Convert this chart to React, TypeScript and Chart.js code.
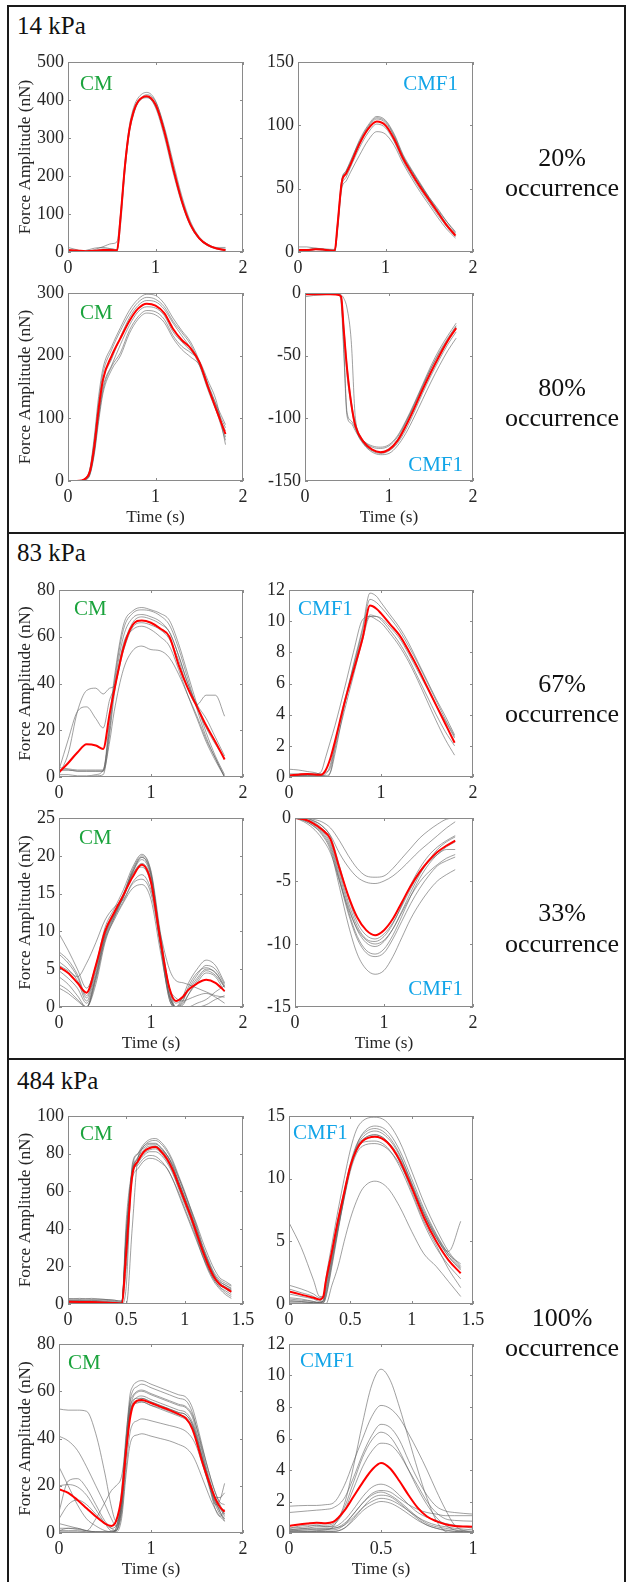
import React, { useEffect, useRef } from "react";
import { Chart, registerables } from "chart.js";
Chart.register(...registerables);

const FONT = '"Liberation Serif", "Times New Roman", Times, serif';

// ---------- 14 kPa ----------
const p1Time = [0, 0.1, 0.2, 0.3, 0.4, 0.5, 0.56, 0.6, 0.65, 0.7, 0.75, 0.8, 0.9, 1.0, 1.1, 1.2, 1.3, 1.4, 1.5, 1.6, 1.7, 1.8];
const p1Mean = [5, 4, 2, 3, 5, 5, 4, 90, 225, 320, 370, 396, 410, 388, 318, 222, 135, 72, 36, 18, 9, 5];
const p1Traces = [
  [12, 6, 1, 6, 14, 22, 27, 100, 235, 330, 380, 405, 420, 398, 325, 228, 140, 75, 38, 20, 12, 12],
  [3, 3, 4, 10, 12, 8, 6, 85, 215, 312, 362, 392, 406, 384, 314, 218, 132, 70, 34, 16, 8, 4],
  [2, 1, 1, 2, 3, 3, 3, 70, 210, 315, 366, 393, 414, 396, 330, 238, 148, 80, 40, 20, 10, 6],
  [6, 4, 2, 3, 8, 8, 6, 95, 230, 322, 372, 398, 408, 380, 305, 210, 128, 68, 34, 17, 9, 8],
];

const p2Time = [0, 0.1, 0.2, 0.3, 0.42, 0.45, 0.5, 0.55, 0.6, 0.7, 0.8, 0.9, 1.0, 1.1, 1.2, 1.3, 1.4, 1.5, 1.6, 1.7, 1.8];
const p2Mean = [1.5, 1.5, 2.2, 1.8, 1.0, 20, 55, 62, 69, 85, 97, 103, 100, 89, 74, 62, 51, 41, 31, 21, 13];
const p2Traces = [
  [1, 1.5, 3, 2, 1, 18, 56, 64, 71, 88, 100, 107, 104, 93, 77, 65, 54, 43, 33, 24, 16],
  [4, 4, 3, 2.5, 2, 22, 57, 64, 72, 87, 99, 106, 103, 92, 76, 64, 53, 42, 32, 22, 14],
  [1, 1, 2, 1.5, 1, 18, 52, 59, 67, 82, 94, 101, 98, 87, 72, 60, 49, 39, 29, 20, 12],
  [1, 1, 2, 1.5, 0.5, 15, 50, 56, 63, 76, 88, 95, 93, 84, 70, 58, 47, 37, 27, 18, 11],
  [2, 2, 2.5, 2, 1.5, 20, 55, 63, 70, 86, 98, 105, 102, 91, 75, 64, 53, 43, 34, 24, 15],
];

const p3Time = [0, 0.1, 0.2, 0.25, 0.3, 0.35, 0.4, 0.5, 0.6, 0.7, 0.8, 0.9, 1.0, 1.1, 1.2, 1.3, 1.4, 1.5, 1.6, 1.7, 1.8];
const p3Mean = [0, 0, 4, 15, 55, 115, 162, 200, 228, 255, 275, 283, 280, 268, 243, 225, 212, 190, 150, 112, 75];
const p3Traces = [
  [0, 0, 5, 20, 70, 135, 180, 215, 245, 272, 290, 298, 296, 283, 260, 240, 222, 192, 152, 120, 90],
  [0, 0, 4, 18, 65, 125, 172, 210, 240, 266, 285, 293, 290, 278, 255, 237, 218, 188, 148, 115, 85],
  [0, 0, 3, 14, 52, 110, 160, 195, 230, 260, 280, 288, 286, 274, 252, 232, 212, 185, 145, 110, 80],
  [0, 0, 3, 12, 48, 105, 150, 185, 218, 248, 270, 278, 276, 264, 238, 222, 208, 190, 155, 118, 70],
  [0, 0, 2, 10, 45, 100, 145, 183, 205, 240, 262, 272, 270, 258, 232, 215, 205, 192, 160, 125, 58],
  [0, 0, 2, 10, 42, 95, 140, 178, 200, 235, 258, 268, 265, 253, 228, 210, 198, 185, 150, 110, 65],
];

const p4Time = [0, 0.1, 0.2, 0.3, 0.4, 0.43, 0.46, 0.5, 0.55, 0.6, 0.7, 0.8, 0.9, 1.0, 1.1, 1.2, 1.3, 1.4, 1.5, 1.6, 1.7, 1.8];
const p4Mean = [-1, -1, -1, -1, -1.5, -3, -28, -60, -88, -106, -119, -125, -127, -125, -118, -106, -92, -77, -63, -50, -38, -28];
const p4Traces = [
  [-1, -1, -1, -1, -1, -1.5, -4, -12, -38, -100, -120, -126, -128, -126, -120, -109, -95, -80, -66, -53, -41, -31],
  [-1, -1, -1, -1, -1.5, -8, -45, -98, -104, -110, -121, -127, -129, -128, -122, -112, -99, -85, -71, -58, -46, -36],
  [-3, -2, -1.5, -1, -1, -3, -30, -65, -90, -108, -118, -122, -123, -121, -114, -102, -88, -73, -58, -45, -34, -24],
  [-1, -1, -1, -1, -1, -4, -40, -95, -102, -108, -120, -125, -127, -124, -117, -104, -90, -75, -60, -47, -36, -26],
  [-0.5, -0.5, -0.5, -0.5, -1, -3, -25, -58, -86, -104, -118, -123, -124, -122, -115, -103, -89, -74, -60, -48, -37, -27],
];

// ---------- 83 kPa ----------
const p5Time = [0, 0.1, 0.2, 0.3, 0.4, 0.48, 0.55, 0.6, 0.7, 0.8, 0.9, 1.0, 1.1, 1.2, 1.3, 1.4, 1.5, 1.6, 1.7, 1.8];
const p5Mean = [2, 6, 10.5, 14, 13.5, 12, 27, 37, 55, 65, 67, 66, 63.5, 60, 48, 38, 30, 22, 15, 7.5];
const p5Traces = [
  [4, 3.5, 3, 3, 3, 3, 25, 42, 65, 71, 72.5, 71.5, 70, 67, 57, 44, 31, 19, 9, 1],
  [3, 3, 2.5, 2.5, 2.5, 2.5, 22, 40, 63, 70, 71.5, 71, 69, 65, 55, 42, 29, 17, 8, 0],
  [1, 1, 0.5, 0.5, 1, 3, 20, 38, 60, 68, 69.5, 68.5, 66.5, 62, 52, 40, 30, 21, 14, 8],
  [0, 0, 0, 0, 0.5, 1, 18, 35, 57, 63, 64.5, 63, 60, 56, 46, 35, 25, 15, 7, 0],
  [3, 3, 2.5, 2.5, 2.5, 2.5, 15, 28, 46, 54, 56, 54.5, 54, 51, 44, 35, 26, 16, 8, 0],
  [3, 16, 28, 30, 25, 21, 33, 38, 56, 66, 68.5, 67.5, 65.5, 62, 52, 40, 31, 25, 17, 9],
  [1, 10, 28, 37, 38, 35.5, 38, 39, 54, 64, 66, 65, 63, 59, 50, 38, 31, 35, 35, 26],
];

const p6Time = [0, 0.1, 0.2, 0.3, 0.35, 0.4, 0.45, 0.5, 0.6, 0.7, 0.8, 0.88, 0.95, 1.0, 1.1, 1.2, 1.3, 1.4, 1.5, 1.6, 1.7, 1.8];
const p6Mean = [0.1, 0.15, 0.2, 0.15, 0.15, 0.45, 1.2, 2.3, 4.7, 6.8, 8.9, 11.0, 10.8, 10.5, 9.8, 9.1, 8.1, 7.0, 5.8, 4.6, 3.4, 2.2];
const p6Traces = [
  [0.1, 0.1, 0.1, 0.1, 0.1, 0.1, 0.3, 1.5, 4.5, 7.2, 9.6, 11.8, 11.6, 11.2, 10.4, 9.6, 8.6, 7.4, 6.2, 5.0, 3.9, 2.7],
  [0.2, 0.2, 0.2, 0.2, 0.2, 0.3, 0.6, 2.0, 4.8, 7.1, 9.4, 11.4, 11.2, 10.9, 10.2, 9.4, 8.4, 7.3, 6.1, 4.9, 3.7, 2.6],
  [0.1, 0.1, 0.1, 0.2, 0.35, 1.3, 2.3, 3.3, 5.6, 8.0, 10.1, 10.3, 10.1, 9.9, 9.2, 8.4, 7.4, 6.2, 4.9, 3.6, 2.4, 1.4],
  [0.5, 0.45, 0.35, 0.25, 0.1, 0, 0.3, 1.8, 4.2, 6.5, 8.8, 10.3, 10.3, 10.1, 9.4, 8.6, 7.6, 6.4, 5.2, 4.0, 2.9, 2.0],
  [0.05, 0.1, 0.15, 0.1, 0.1, 0.2, 0.8, 2.2, 4.6, 6.9, 9.1, 10.4, 10.3, 10.2, 9.6, 8.9, 7.9, 6.8, 5.7, 4.6, 3.6, 2.5],
];

const p7Time = [0, 0.1, 0.2, 0.3, 0.4, 0.5, 0.6, 0.7, 0.8, 0.9, 1.0, 1.1, 1.2, 1.27, 1.35, 1.4, 1.5, 1.6, 1.7, 1.8];
const p7Mean = [5.3, 4.5, 3.2, 1.9, 5.5, 10, 12.5, 14.8, 17.2, 18.8, 16.5, 9, 2.5, 0.8, 1.4, 2.2, 3.1, 3.6, 3.2, 2.1];
const p7Traces = [
  [9.7, 7.5, 5.0, 2.5, 5.5, 10.5, 13, 15.5, 18.5, 20.2, 18, 10, 2.5, 0, 1.5, 3, 5, 6.2, 5.5, 3.2],
  [7.3, 6.2, 4.3, 1.5, 5.2, 10, 12.5, 15, 18, 19.8, 17.5, 9.5, 2, 0, 1, 2.2, 4.2, 5.5, 5, 3.0],
  [7.0, 5.8, 4.0, 1.2, 5.0, 9.8, 12.3, 14.8, 17.8, 19.5, 17.2, 9.2, 2.5, 0.5, 1.2, 2, 3.8, 5.0, 4.6, 2.6],
  [6.0, 5.0, 3.5, 0.8, 4.6, 9.5, 12.2, 14.5, 17.5, 19.0, 16.8, 8.5, 1.5, 0, 0.5, 1.5, 3.2, 4.5, 4.0, 2.0],
  [5.5, 4.8, 4.0, 5.8, 8.5, 11.5, 13.2, 14.2, 16.5, 17.5, 15.5, 9.8, 5, 3.5, 3.2, 3, 2.5, 2.0, 1.5, 1.3],
  [4.8, 3.8, 2.5, 0.5, 4.0, 9.0, 11.8, 14.0, 16.3, 16.9, 15.0, 8.5, 2.5, 1.2, 0.8, 1.0, 1.5, 1.8, 1.3, 0.5],
  [4.0, 3.0, 1.5, 0, 3.5, 8.8, 11.5, 13.8, 15.7, 16.2, 14.2, 7.5, 1.5, 0, 0, 0, 0.5, 1.0, 2.0, 2.8],
  [3.0, 2.2, 1.0, 0, 3.8, 9.2, 12, 14.6, 17.8, 19.8, 17.5, 8.8, 1, 0, 0.3, 1.5, 3.5, 4.8, 4.2, 2.6],
  [2.5, 1.8, 0.8, 0, 4.2, 9.5, 12.2, 14.8, 18.2, 20.0, 17.8, 9.0, 1.5, 0, 0.8, 2.5, 4.5, 5.2, 4.5, 2.8],
  [0, 0, 0, 0, 3.0, 8.5, 11.8, 14.5, 17.6, 18.5, 16.2, 8.2, 1.0, 0, 0, 0, 0, 0.3, 1.0, 1.5],
];

const p8Time = [0, 0.1, 0.2, 0.3, 0.4, 0.5, 0.6, 0.7, 0.8, 0.9, 1.0, 1.1, 1.2, 1.3, 1.4, 1.5, 1.6, 1.7, 1.8];
const p8Mean = [0, -0.1, -0.4, -0.9, -1.7, -4.0, -6.2, -7.9, -8.9, -9.3, -8.9, -8.0, -6.7, -5.4, -4.3, -3.4, -2.7, -2.2, -1.8];
const p8Traces = [
  [0, 0, -0.1, -0.3, -0.8, -1.8, -3.0, -4.0, -4.6, -4.7, -4.6, -4.0, -3.2, -2.4, -1.6, -1.0, -0.5, -0.1, 0],
  [0, 0, -0.2, -0.6, -1.4, -2.8, -3.9, -4.7, -5.1, -5.2, -5.0, -4.6, -4.0, -3.3, -2.6, -2.0, -1.4, -0.8, -0.3],
  [0, -0.2, -0.6, -1.3, -2.6, -5.5, -8.5, -10.8, -12.0, -12.4, -12.1, -11.0, -9.5, -8.0, -6.8, -5.8, -5.0, -4.5, -4.1],
  [0, -0.2, -0.6, -1.2, -2.4, -5.0, -7.6, -9.6, -10.7, -11.0, -10.7, -9.6, -8.2, -6.8, -5.6, -4.6, -3.8, -3.4, -3.1],
  [0, -0.1, -0.5, -1.1, -2.2, -4.8, -7.4, -9.4, -10.5, -10.8, -10.4, -9.3, -7.8, -6.2, -4.8, -3.7, -2.9, -2.3, -1.9],
  [0, -0.1, -0.4, -1.0, -2.0, -4.5, -7.0, -8.9, -9.9, -10.2, -9.8, -8.8, -7.4, -5.9, -4.5, -3.4, -2.5, -1.9, -1.5],
  [0, -0.1, -0.3, -0.8, -1.7, -4.2, -6.7, -8.6, -9.6, -9.8, -9.4, -8.4, -6.9, -5.3, -4.0, -3.0, -2.3, -1.8, -1.4],
  [0, 0, -0.2, -0.6, -1.5, -3.8, -6.3, -8.3, -9.3, -9.6, -9.2, -8.3, -7.0, -5.6, -4.4, -3.5, -2.9, -2.5, -2.5],
  [0, -0.3, -0.8, -1.6, -2.8, -5.0, -7.2, -8.8, -9.7, -10.0, -9.7, -8.8, -7.5, -6.2, -5.1, -4.3, -3.7, -3.2, -2.9],
];

// ---------- 484 kPa ----------
const p9Time = [0, 0.1, 0.2, 0.3, 0.4, 0.46, 0.5, 0.55, 0.6, 0.65, 0.7, 0.75, 0.8, 0.85, 0.9, 0.95, 1.0, 1.05, 1.1, 1.15, 1.2, 1.25, 1.3, 1.35, 1.4];
const p9Mean = [1.2, 1.1, 1.0, 0.8, 0.5, 0.3, 28, 68, 76, 81, 83, 83.5, 81, 77, 71, 63, 55, 47, 38, 29, 21, 14.5, 10.5, 8.5, 6.5];
const p9Traces = [
  [3, 2.5, 3, 2.5, 2, 1.5, 30, 72, 80, 85, 87.5, 88, 86, 82, 76, 68, 60, 51, 42, 32, 24, 17, 13, 11, 9.5],
  [2.5, 3, 2.5, 2.5, 2.0, 1.5, 20, 70, 78, 84, 86.5, 87, 85, 81, 75, 67, 59, 50, 41, 31, 23, 16, 12, 10, 8.5],
  [1.5, 1.5, 1.5, 1.0, 1.0, 0.5, 40, 70, 76, 80, 82, 82.5, 80, 76, 70, 62, 54, 46, 37, 28, 20, 14, 10, 8, 6],
  [1, 1, 1, 0.8, 0.5, 0, 10, 74, 80, 84, 85.5, 85.5, 83, 79, 73, 65, 57, 48, 39, 30, 22, 15, 11, 9, 7],
  [0.5, 0.5, 0.5, 0.5, 0.5, 0, 45, 70, 74, 77.5, 79, 78.5, 76, 72, 66, 58, 50, 42, 34, 26, 19, 13, 9, 6, 4],
  [1, 1, 1, 1, 0.5, 0.3, 35, 68, 75, 79, 81, 81, 79, 75, 69, 61, 53, 45, 36, 27, 19, 13, 9, 7, 5],
  [2, 2, 2, 1.5, 1, 0.5, 0, 40, 78, 83, 85, 85, 83, 79, 73, 65, 57, 49, 40, 31, 23, 16, 12, 10, 8],
  [1.5, 1.5, 1.2, 1.0, 0.8, 0.5, 38, 71, 77, 81, 83, 84, 82, 78, 72, 64, 56, 48, 39, 30, 22, 15, 11, 9, 7.5],
  [0.5, 0.5, 0.5, 0.3, 0.3, 0.2, 33, 66, 72, 76, 77.5, 77, 75, 72, 66, 59, 51, 43, 35, 26, 18, 12, 8, 5, 3],
  [2, 2, 2, 2, 1.5, 1, 38, 69, 78, 82, 84, 84, 82, 79, 74, 67, 59, 51, 43, 34, 26, 19, 14, 12, 10],
];

const p10Time = [0, 0.1, 0.2, 0.25, 0.28, 0.3, 0.35, 0.4, 0.45, 0.5, 0.55, 0.6, 0.7, 0.8, 0.9, 1.0, 1.1, 1.2, 1.3, 1.4];
const p10Mean = [1.0, 0.75, 0.5, 0.35, 0.6, 1.8, 4.2, 6.7, 8.9, 11.0, 12.3, 13.0, 13.35, 12.9, 11.5, 9.3, 6.9, 5.0, 3.5, 2.45];
const p10Traces = [
  [6.5, 4.5, 1.9, 0.6, 0.6, 1.6, 4.0, 6.5, 8.8, 11.0, 12.4, 13.1, 13.5, 13.0, 11.7, 9.5, 7.2, 5.3, 3.8, 2.8],
  [0.3, 0.2, 0.1, 0.05, 0, 0, 1.5, 3.0, 5.0, 6.8, 8.2, 9.2, 9.8, 9.3, 7.8, 5.8, 4.0, 3.0, 1.8, 0.6],
  [1.5, 1.2, 0.8, 0.5, 0.5, 2.0, 4.8, 7.5, 10.0, 12.3, 13.9, 14.6, 14.9, 14.5, 13.0, 10.6, 8.1, 6.0, 4.2, 3.0],
  [0.2, 0.2, 0.1, 0.1, 0.3, 1.5, 4.0, 6.8, 9.0, 11.2, 12.7, 13.5, 14.0, 13.5, 12.0, 9.6, 7.2, 5.3, 4.2, 6.6],
  [0.5, 0.4, 0.2, 0.1, 0.3, 1.2, 3.8, 6.4, 8.8, 11.0, 12.5, 13.3, 13.8, 13.3, 11.9, 9.7, 7.4, 5.5, 4.0, 3.2],
  [0.8, 0.6, 0.4, 0.2, 0.2, 0.8, 3.4, 6.0, 8.4, 10.6, 12.0, 12.6, 12.8, 12.4, 11.2, 9.3, 7.2, 5.4, 3.8, 2.7],
  [1.2, 0.9, 0.6, 0.3, 0.2, 1.0, 3.6, 6.2, 8.6, 10.8, 12.2, 12.9, 13.0, 12.5, 11.0, 8.8, 6.4, 4.5, 3.1, 2.0],
  [0.1, 0.1, 0.1, 0.1, 0.1, 0.5, 3.0, 5.8, 8.5, 10.9, 12.6, 13.6, 14.2, 13.8, 12.3, 10.0, 7.6, 5.6, 4.0, 2.9],
  [0.4, 0.3, 0.2, 0.1, 0.1, 0.6, 3.2, 6.0, 8.6, 10.9, 12.4, 13.1, 13.5, 13.0, 11.4, 9.0, 6.6, 4.7, 2.8, 1.3],
];

const p11Time = [0, 0.1, 0.2, 0.3, 0.4, 0.5, 0.57, 0.62, 0.68, 0.73, 0.77, 0.8, 0.85, 0.9, 1.0, 1.1, 1.2, 1.3, 1.38, 1.45, 1.5, 1.55, 1.6, 1.65, 1.7, 1.75, 1.8];
const p11Mean = [18.5, 17, 14, 10.5, 7, 4, 3, 5, 15.5, 35, 48, 53.5, 56, 56.3, 55, 53.5, 52, 50.3, 48.5, 44, 38, 31, 25, 19.5, 14.5, 11, 9];
const p11Traces = [
  [52.5, 52, 52, 51.5, 42, 25, 11, 5, 12, 40, 58, 62, 64, 64.5, 63, 61.5, 60, 58.5, 57.5, 53, 46, 38, 30, 23, 17, 12, 8],
  [41, 39, 35, 28, 20, 12, 6, 3, 10, 35, 55, 60, 62, 63, 61.5, 60, 58.5, 57, 56, 51, 44, 36, 28, 21, 15, 11, 7],
  [28, 20, 12, 6, 3, 1, 0.5, 2, 14, 36, 52, 57, 59.5, 60, 58.5, 57, 55.5, 54, 53, 49, 42, 35, 27, 20, 14, 9, 5],
  [9, 22, 23, 19, 12, 5, 2, 1, 12, 34, 50, 55, 57.5, 58, 56.5, 55, 53.5, 52, 51, 47, 41, 33, 26, 18, 12, 8, 6],
  [20, 20.5, 19.5, 16, 10, 4, 1, 1, 10, 33, 49, 54, 56, 57, 55.5, 54, 52.5, 51, 50, 46, 40, 33, 26, 19, 13, 9, 6],
  [1, 2, 2, 1, 6, 13, 18, 20, 24, 38, 50, 54, 55, 55.5, 54, 52.5, 51, 49.5, 48, 45, 39, 32, 25, 18, 12, 14, 21],
  [4, 3, 2, 1, 0.5, 0.5, 0.5, 1, 8, 28, 42, 46, 47.5, 48.3, 47.5, 46.5, 45.5, 44.5, 43, 40, 36, 30, 24, 18, 13, 10, 8],
  [2, 2, 1.5, 1, 0.5, 0.5, 0.5, 0.5, 6, 25, 37, 40.5, 41.5, 42, 41, 40, 39, 37.5, 36, 33, 29, 24, 19, 14, 10, 7, 5],
  [1, 1, 1, 0.5, 0.5, 0.3, 0.3, 1, 14, 40, 53, 56, 57, 57, 55.5, 54, 52.5, 51, 50, 46, 40, 33, 26, 20, 15, 15, 17],
  [0.5, 0.5, 0.5, 0.3, 0.3, 0.3, 0.3, 2, 18, 42, 55, 58, 60, 60.5, 59, 57.5, 56, 54.5, 53.5, 50, 44, 37, 30, 23, 17, 13, 12],
  [6, 12, 14, 12, 8, 4, 2, 3, 13, 37, 51, 54.5, 55.5, 55.5, 54, 53, 51.5, 50, 49, 45, 39, 31, 24, 17, 10, 7, 10],
];

const p12Time = [0, 0.1, 0.15, 0.2, 0.24, 0.3, 0.35, 0.4, 0.45, 0.5, 0.55, 0.6, 0.65, 0.7, 0.75, 0.8, 0.85, 0.9, 1.0];
const p12Mean = [0.45, 0.6, 0.65, 0.62, 0.7, 1.4, 2.3, 3.2, 4.0, 4.45, 4.1, 3.3, 2.4, 1.6, 1.05, 0.75, 0.55, 0.45, 0.4];
const p12Traces = [
  [0.1, 0.1, 0.15, 0.2, 0.4, 1.8, 4.2, 7.0, 9.4, 10.4, 9.7, 8.0, 6.0, 4.0, 2.2, 0.8, 0.1, 0, 0],
  [1.7, 1.75, 1.75, 1.8, 1.9, 3.0, 4.5, 6.0, 7.4, 8.1, 7.9, 7.3, 6.3, 5.2, 4.0, 2.7, 1.5, 0.5, 0],
  [1.3, 1.4, 1.45, 1.5, 1.6, 2.2, 3.5, 5.0, 6.2, 6.9, 6.7, 5.9, 4.6, 3.4, 2.4, 1.7, 1.4, 1.3, 1.2],
  [0.3, 0.4, 0.5, 0.5, 0.6, 1.6, 3.2, 4.8, 5.9, 6.4, 6.1, 5.2, 4.0, 2.8, 1.8, 1.0, 0.5, 0.2, 0],
  [0.2, 0.3, 0.4, 0.4, 0.5, 1.4, 2.8, 4.2, 5.2, 5.7, 5.6, 5.0, 4.0, 3.0, 2.0, 1.3, 0.9, 0.8, 0.75],
  [0.3, 0.5, 0.5, 0.4, 0.4, 0.8, 1.5, 2.3, 2.9, 3.1, 2.9, 2.4, 1.8, 1.3, 1.0, 0.8, 0.6, 0.5, 0.3],
  [0.1, 0.2, 0.2, 0.2, 0.2, 0.5, 1.2, 1.9, 2.5, 2.7, 2.6, 2.2, 1.8, 1.5, 1.3, 1.2, 1.1, 1.1, 1.1],
  [0.2, 0.3, 0.3, 0.3, 0.3, 0.6, 1.2, 1.9, 2.4, 2.6, 2.4, 2.0, 1.5, 1.0, 0.6, 0.4, 0.3, 0.2, 0.1],
  [0, 0.05, 0.1, 0.1, 0.1, 0.3, 0.9, 1.6, 2.2, 2.4, 2.3, 1.9, 1.4, 0.9, 0.5, 0.3, 0.15, 0.1, 0.05],
  [0.15, 0.2, 0.25, 0.25, 0.3, 0.5, 1.0, 1.6, 2.0, 2.2, 2.1, 1.8, 1.4, 1.0, 0.7, 0.5, 0.4, 0.3, 0.2],
  [0.05, 0.1, 0.1, 0.1, 0.1, 0.3, 0.8, 1.4, 1.8, 2.0, 1.9, 1.6, 1.2, 0.8, 0.5, 0.3, 0.2, 0.1, 0.05],
];

// ---------- tick labels ----------
const xTicks2 = [0, 1, 2];
const xTicks15 = [0, 0.5, 1, 1.5];
const xTicks1 = [0, 0.5, 1];
const p1YTicks = [0, 100, 200, 300, 400, 500];
const p2YTicks = [0, 50, 100, 150];
const p3YTicks = [0, 100, 200, 300];
const p4YTicks = [-150, -100, -50, 0];
const p5YTicks = [0, 20, 40, 60, 80];
const p6YTicks = [0, 2, 4, 6, 8, 10, 12];
const p7YTicks = [0, 5, 10, 15, 20, 25];
const p8YTicks = [-15, -10, -5, 0];
const p9YTicks = [0, 20, 40, 60, 80, 100];
const p10YTicks = [0, 5, 10, 15];
const p11YTicks = [0, 20, 40, 60, 80];
const p12YTicks = [0, 2, 4, 6, 8, 10, 12];

const sectionTitles = ["14 kPa", "83 kPa", "484 kPa"];
const occurrences = ["20%", "80%", "67%", "33%", "100%"];
const cellLabels = ["CM", "CMF1"];

type PanelDef = {
  rect: [number, number, number, number];
  col: number;
  time: number[];
  mean: number[];
  traces: number[][];
  xTicks: number[];
  yTicks: number[];
  xTitle: boolean;
};

const panels: PanelDef[] = [
  { rect: [68, 62, 243, 252], col: 0, time: p1Time, mean: p1Mean, traces: p1Traces, xTicks: xTicks2, yTicks: p1YTicks, xTitle: false },
  { rect: [298, 62, 473, 252], col: 1, time: p2Time, mean: p2Mean, traces: p2Traces, xTicks: xTicks2, yTicks: p2YTicks, xTitle: false },
  { rect: [68, 293, 243, 481], col: 0, time: p3Time, mean: p3Mean, traces: p3Traces, xTicks: xTicks2, yTicks: p3YTicks, xTitle: true },
  { rect: [305, 293, 473, 481], col: 1, time: p4Time, mean: p4Mean, traces: p4Traces, xTicks: xTicks2, yTicks: p4YTicks, xTitle: true },
  { rect: [59, 590, 243, 777], col: 0, time: p5Time, mean: p5Mean, traces: p5Traces, xTicks: xTicks2, yTicks: p5YTicks, xTitle: false },
  { rect: [289, 590, 473, 777], col: 1, time: p6Time, mean: p6Mean, traces: p6Traces, xTicks: xTicks2, yTicks: p6YTicks, xTitle: false },
  { rect: [59, 818, 243, 1007], col: 0, time: p7Time, mean: p7Mean, traces: p7Traces, xTicks: xTicks2, yTicks: p7YTicks, xTitle: true },
  { rect: [295, 818, 473, 1007], col: 1, time: p8Time, mean: p8Mean, traces: p8Traces, xTicks: xTicks2, yTicks: p8YTicks, xTitle: true },
  { rect: [68, 1116, 243, 1304], col: 0, time: p9Time, mean: p9Mean, traces: p9Traces, xTicks: xTicks15, yTicks: p9YTicks, xTitle: false },
  { rect: [289, 1116, 473, 1304], col: 1, time: p10Time, mean: p10Mean, traces: p10Traces, xTicks: xTicks15, yTicks: p10YTicks, xTitle: false },
  { rect: [59, 1344, 243, 1533], col: 0, time: p11Time, mean: p11Mean, traces: p11Traces, xTicks: xTicks2, yTicks: p11YTicks, xTitle: true },
  { rect: [289, 1344, 473, 1533], col: 1, time: p12Time, mean: p12Mean, traces: p12Traces, xTicks: xTicks1, yTicks: p12YTicks, xTitle: true },
];

const boxPlugin = {
  id: "matlabBox",
  afterDraw(chart: any) {
    const { ctx, chartArea: a, scales } = chart;
    const tl = 3;
    ctx.save();
    ctx.strokeStyle = "#8a8a8a";
    ctx.lineWidth = 1;
    ctx.strokeRect(a.left + 0.5, a.top + 0.5, a.right - a.left - 1, a.bottom - a.top - 1);
    ctx.beginPath();
    scales.x.ticks.forEach((t: any) => {
      const px = Math.round(scales.x.getPixelForValue(t.value)) + 0.5;
      ctx.moveTo(px, a.bottom);
      ctx.lineTo(px, a.bottom - tl);
      ctx.moveTo(px, a.top);
      ctx.lineTo(px, a.top + tl);
    });
    scales.y.ticks.forEach((t: any) => {
      const py = Math.round(scales.y.getPixelForValue(t.value)) + 0.5;
      ctx.moveTo(a.left, py);
      ctx.lineTo(a.left + tl, py);
      ctx.moveTo(a.right, py);
      ctx.lineTo(a.right - tl, py);
    });
    ctx.stroke();
    ctx.restore();
  },
};

function PanelChart({ p }: { p: PanelDef }) {
  const ref = useRef<HTMLCanvasElement>(null);
  const [L, T, R, B] = p.rect;
  const cl = p.col === 0 ? 10 : L - 46;
  const ct = T - 10;
  const xh = p.xTitle ? 47 : 28;
  const cw = R + 16 - cl;
  const ch = B + xh - ct;
  useEffect(() => {
    const toPts = (vals: number[]) => vals.map((v, i) => ({ x: p.time[i], y: v }));
    const datasets: any[] = [
      { data: toPts(p.mean), borderColor: "#ff0000", borderWidth: 2, order: 0 },
      ...p.traces.map((tr) => ({ data: toPts(tr), borderColor: "rgba(95,95,95,0.75)", borderWidth: 0.8, order: 1 })),
    ];
    const tickFont = { family: FONT, size: 18 };
    const titleFont = { family: FONT, size: 17.3 };
    const xT = p.xTicks;
    const yT = p.yTicks;
    const chart = new Chart(ref.current as HTMLCanvasElement, {
      type: "line",
      data: { datasets },
      options: {
        animation: false,
        responsive: false,
        devicePixelRatio: 1,
        events: [],
        layout: { padding: { top: 10, right: 16, left: 0, bottom: 0 } },
        plugins: { legend: { display: false }, tooltip: { enabled: false } },
        elements: { point: { radius: 0 }, line: { cubicInterpolationMode: "monotone", fill: false } },
        scales: {
          x: {
            type: "linear",
            min: xT[0],
            max: xT[xT.length - 1],
            grid: { display: false, drawTicks: false },
            border: { display: false },
            afterBuildTicks: (s: any) => {
              s.ticks = xT.map((v) => ({ value: v }));
            },
            ticks: { font: tickFont, color: "#262626", padding: 5, maxRotation: 0, autoSkip: false, callback: (v: any) => String(v) },
            title: { display: p.xTitle, text: "Time (s)", font: titleFont, color: "#262626", padding: { top: 0, bottom: 0 } },
            afterFit: (s: any) => {
              s.height = xh;
              s.paddingLeft = 0;
              s.paddingRight = 0;
            },
          },
          y: {
            type: "linear",
            min: yT[0],
            max: yT[yT.length - 1],
            grid: { display: false, drawTicks: false },
            border: { display: false },
            afterBuildTicks: (s: any) => {
              s.ticks = yT.map((v) => ({ value: v }));
            },
            ticks: { font: tickFont, color: "#262626", padding: 4, autoSkip: false, callback: (v: any) => String(v) },
            title: { display: p.col === 0, text: "Force Amplitude (nN)", font: titleFont, color: "#262626", padding: { top: 5, bottom: 0 } },
            afterFit: (s: any) => {
              s.width = L - cl;
              s.paddingTop = 0;
              s.paddingBottom = 0;
            },
          },
        },
      } as any,
      plugins: [boxPlugin],
    });
    return () => chart.destroy();
  }, []);
  return (
    <canvas
      ref={ref}
      width={cw}
      height={ch}
      style={{ position: "absolute", left: cl, top: ct, width: cw, height: ch }}
    />
  );
}

const GREEN = "#1aa33c";
const BLUE = "#12a5e8";

type Txt = { text: string; x: number; y: number; size: number; color?: string; align?: "left" | "right" | "center" };

const texts: Txt[] = [
  { text: sectionTitles[0], x: 17, y: 12.5, size: 25 },
  { text: sectionTitles[1], x: 17, y: 539.5, size: 25 },
  { text: sectionTitles[2], x: 17, y: 1067.5, size: 25 },
  { text: cellLabels[0], x: 80, y: 72.5, size: 21, color: GREEN },
  { text: cellLabels[1], x: 458, y: 72.5, size: 21, color: BLUE, align: "right" },
  { text: cellLabels[0], x: 80, y: 301.5, size: 21, color: GREEN },
  { text: cellLabels[1], x: 463, y: 453.5, size: 21, color: BLUE, align: "right" },
  { text: cellLabels[0], x: 74, y: 597.5, size: 21, color: GREEN },
  { text: cellLabels[1], x: 298, y: 597.5, size: 21, color: BLUE },
  { text: cellLabels[0], x: 79, y: 826.5, size: 21, color: GREEN },
  { text: cellLabels[1], x: 463, y: 977.5, size: 21, color: BLUE, align: "right" },
  { text: cellLabels[0], x: 80, y: 1122.5, size: 21, color: GREEN },
  { text: cellLabels[1], x: 293, y: 1121.5, size: 21, color: BLUE },
  { text: cellLabels[0], x: 68, y: 1351.5, size: 21, color: GREEN },
  { text: cellLabels[1], x: 300, y: 1349.5, size: 21, color: BLUE },
  { text: occurrences[0], x: 562, y: 145, size: 26, align: "center" },
  { text: "occurrence", x: 562, y: 175, size: 26, align: "center" },
  { text: occurrences[1], x: 562, y: 375, size: 26, align: "center" },
  { text: "occurrence", x: 562, y: 405, size: 26, align: "center" },
  { text: occurrences[2], x: 562, y: 671, size: 26, align: "center" },
  { text: "occurrence", x: 562, y: 701, size: 26, align: "center" },
  { text: occurrences[3], x: 562, y: 900, size: 26, align: "center" },
  { text: "occurrence", x: 562, y: 931, size: 26, align: "center" },
  { text: occurrences[4], x: 562, y: 1305, size: 26, align: "center" },
  { text: "occurrence", x: 562, y: 1335, size: 26, align: "center" },
];

function TextItem({ t }: { t: Txt }) {
  const base: React.CSSProperties = {
    position: "absolute",
    top: t.y,
    fontFamily: FONT,
    fontSize: t.size,
    lineHeight: `${t.size}px`,
    color: t.color || "#111",
    whiteSpace: "nowrap",
  };
  if (t.align === "right") return <div style={{ ...base, right: 626 - t.x, textAlign: "right" }}>{t.text}</div>;
  if (t.align === "center") return <div style={{ ...base, left: t.x - 100, width: 200, textAlign: "center" }}>{t.text}</div>;
  return <div style={{ ...base, left: t.x }}>{t.text}</div>;
}

export default function App() {
  return (
    <div style={{ position: "absolute", left: 0, top: 0, width: 626, height: 1582, background: "#fff", overflow: "hidden" }}>
      <div style={{ position: "absolute", left: 7, top: 5, width: 615, height: 1590, border: "2px solid #1a1a1a" }} />
      <div style={{ position: "absolute", left: 7, top: 532, width: 619, height: 2, background: "#1a1a1a" }} />
      <div style={{ position: "absolute", left: 7, top: 1058, width: 619, height: 2, background: "#1a1a1a" }} />
      {panels.map((p, i) => (
        <PanelChart key={i} p={p} />
      ))}
      {texts.map((t, i) => (
        <TextItem key={i} t={t} />
      ))}
    </div>
  );
}
